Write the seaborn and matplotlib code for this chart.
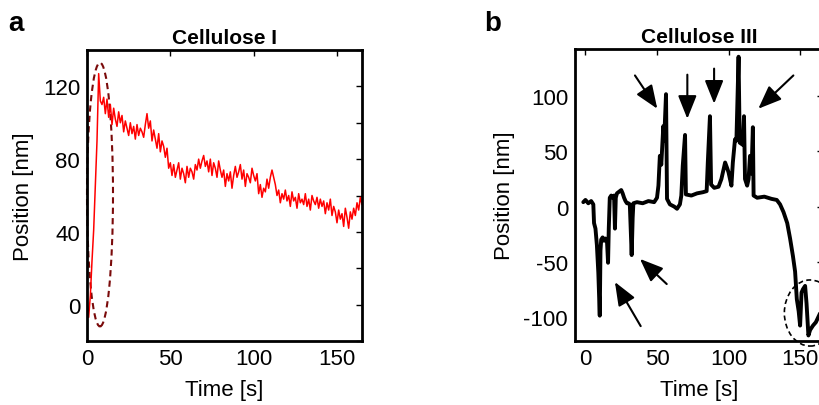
import numpy as np
import pandas as pd
import matplotlib
matplotlib.use("Agg")
import matplotlib.pyplot as plt
from matplotlib.patches import Ellipse
from matplotlib.ticker import MultipleLocator
import seaborn as sns

# ---------------- data ----------------
# Panel a: Cellulose I (1 s sampling)
pos_a = [3, -7, 5, 24, 41, 66, 90, 127, 112, 110, 114,
         105, 113, 103, 110, 99, 108, 102, 98, 106, 100,
         104, 95, 101, 97, 93, 100, 94, 98, 91, 99,
         93, 97, 95, 92, 99, 105, 97, 101, 90, 96,
         91, 86, 94, 84, 90, 87, 81, 86, 75, 78,
         71, 77, 70, 74, 78, 69, 75, 72, 67, 76,
         70, 75, 73, 69, 77, 74, 80, 75, 79, 82,
         76, 79, 73, 80, 71, 78, 75, 70, 79, 74,
         70, 74, 65, 72, 68, 73, 64, 71, 76, 70,
         73, 77, 69, 74, 65, 72, 70, 67, 75, 71,
         68, 72, 61, 66, 59, 64, 62, 69, 64, 70,
         74, 70, 66, 60, 63, 56, 61, 58, 63, 57,
         60, 54, 62, 57, 59, 53, 61, 56, 58, 55,
         61, 54, 58, 52, 60, 57, 55, 59, 53, 58,
         54, 57, 50, 56, 52, 58, 49, 54, 51, 45,
         52, 47, 50, 43, 53, 48, 42, 51, 47, 53,
         49, 56, 52, 59, 55]
time_a = list(range(len(pos_a)))

# Panel b: Cellulose III
time_b = [-1.5, 0, 2, 4, 5.5, 6, 7, 8, 9, 10, 10.5, 11, 12, 13, 14, 15, 15.8, 16.3,
          17, 18, 19, 20, 20.6, 21.2, 22, 24, 25, 26, 27, 28, 29, 30, 31, 32.3, 33,
          33.5, 36, 40, 44, 48, 50, 51, 52, 53, 54.4, 55, 56.3, 57, 59, 62, 64, 66,
          67, 68, 69.6, 70.2, 74, 78, 82, 84.7, 85.5, 87, 87.8, 90, 93, 95, 97.6, 99,
          100, 102, 103, 104.5, 105.5, 107, 107.8, 110, 110.8, 111.5, 113, 114, 115,
          116, 117, 117.5, 120, 125, 130, 133.7, 136, 138.4, 141, 143, 145, 146.5,
          147.7, 149, 150, 151, 152, 153.5, 154.5, 155.8, 157, 159, 161, 163.9, 166]
pos_b = [4, 6, 3, 5, 2, -15, -20, -35, -60, -99, -40, -30, -28, -31, -29, -30, -51, -20,
         8, 10, 8, 10, -20, 8, 12, 14, 15, 12, 8, 5, 3, 3, 2, -44, -10,
         3, 4, 3, 5, 4, 8, 19, 46, 38, 73, 60, 102, 7, 2, 0, -2, 2,
         10, 37, 65, 11, 10, 12, 13, 14, 40, 82, 20, 17, 18, 25, 40, 35,
         31, 19, 40, 61, 60, 136, 58, 56, 82, 25, 19, 25, 46,
         30, 72, 10, 8, 9, 7, 6, 2, -5, -15, -29, -45, -59,
         -84, -95, -108, -78, -75, -72, -88, -117, -112, -108, -105, -97, -92]

df_a = pd.DataFrame({"Time": time_a, "Position": pos_a})
df_b = pd.DataFrame({"Time": time_b, "Position": pos_b})

# ---------------- style ----------------
sns.set_theme(style="white")
plt.rcParams["font.family"] = ["Liberation Sans", "DejaVu Sans"]
plt.rcParams["axes.unicode_minus"] = False
for k in ("text.color", "axes.labelcolor", "xtick.color", "ytick.color"):
    plt.rcParams[k] = "black"

fig = plt.figure(figsize=(8.2, 4.06), dpi=100)
ax_a = fig.add_axes([87/820, 1-342/406, (362-87)/820, (342-51)/406])
ax_b = fig.add_axes([575/820, 1-342/406, (823-575)/820, (342-50)/406])

# ---------------- panel a ----------------
sns.lineplot(data=df_a, x="Time", y="Position", ax=ax_a, color="#ff0000",
             lw=1.1, estimator=None, sort=False)
ax_a.set_xlim(0, 165)
ax_a.set_ylim(-20, 140)
ax_a.set_xticks([0, 50, 100, 150])
ax_a.set_yticks([0, 40, 80, 120])
ax_a.yaxis.set_minor_locator(MultipleLocator(20))
ax_a.add_patch(Ellipse((7.8, 60.5), 15.6, 145, fill=False, ls=(0, (3, 2)),
                       lw=1.5, edgecolor="#7a0a0a", clip_on=False))
ax_a.set_title("Cellulose I", fontsize=15, fontweight="bold", pad=5)

# ---------------- panel b ----------------
sns.lineplot(data=df_b, x="Time", y="Position", ax=ax_b, color="black",
             lw=2.8, estimator=None, sort=False)
ax_b.set_xlim(-7.3, 166)
ax_b.set_ylim(-122, 143)
ax_b.set_xticks([0, 50, 100, 150])
ax_b.set_yticks([-100, -50, 0, 50, 100])
ax_b.add_patch(Ellipse((157, -96.6), 36, 60, fill=False, ls=(0, (3, 2)),
                       lw=1.2, edgecolor="black", clip_on=False))
ax_b.set_title("Cellulose III", fontsize=15, fontweight="bold", pad=5)

arrows = [((34.6, 119), (50.2, 88.8)), ((71.2, 119.7), (71.2, 79.7)),
          ((89.9, 125.2), (89.9, 93.4)), ((145.3, 119), (120.8, 88.8)),
          ((38.6, -108.5), (20.6, -68.5)), ((56.8, -70.3), (38.1, -47.5))]
for tail, head in arrows:
    ax_b.annotate("", xy=head, xytext=tail,
                  arrowprops=dict(arrowstyle="-|>,head_length=0.75,head_width=0.3",
                                  color="black", lw=1.5, mutation_scale=19,
                                  shrinkA=0, shrinkB=0))

for ax in (ax_a, ax_b):
    ax.set_xlabel("Time [s]", fontsize=16, labelpad=7)
    ax.set_ylabel("Position [nm]", fontsize=16, labelpad=6)
    ax.tick_params(which="both", direction="in", top=True, right=True,
                   length=4, width=1, labelsize=16, pad=5, color="black")
    for s in ax.spines.values():
        s.set_color("black")
        s.set_linewidth(2.0)

fig.text(8/820, 1-24/406, "a", fontsize=20, fontweight="bold", va="center")
fig.text(484/820, 1-24/406, "b", fontsize=20, fontweight="bold", va="center")

fig.savefig("out.png", dpi=100)
